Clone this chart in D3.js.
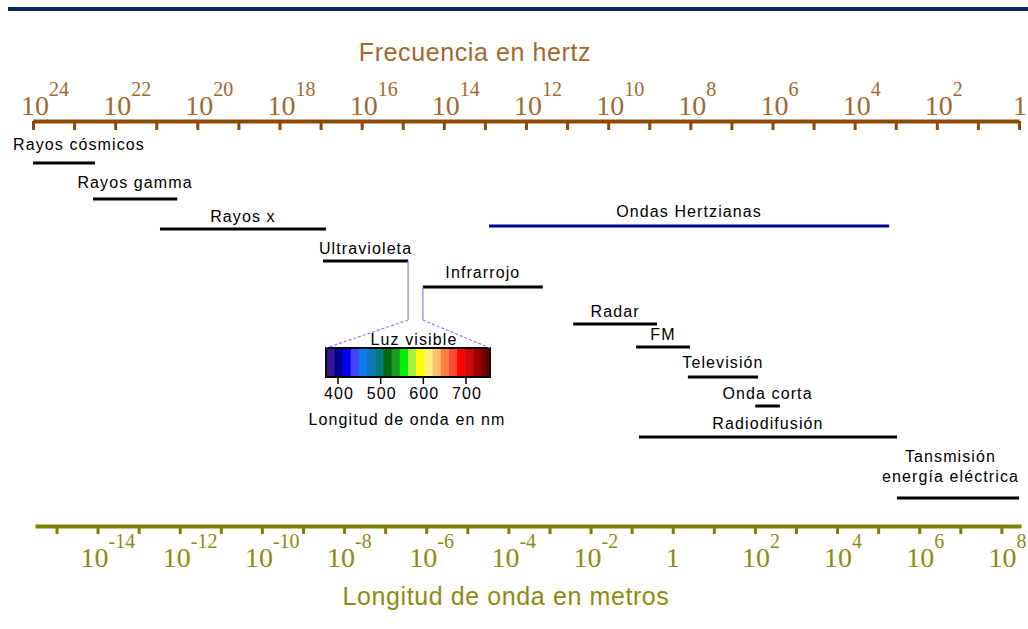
<!DOCTYPE html>
<html>
<head>
<meta charset="utf-8">
<script src="https://cdn.jsdelivr.net/npm/d3@7"></script>
<style>
  html, body { margin: 0; padding: 0; background: #fff; }
  svg { display: block; }
  .lbl { font-family: "Liberation Sans", Arial, sans-serif; font-size: 16px; letter-spacing: 1.1px; fill: #000; }
</style>
</head>
<body>
<svg id="chart" width="1028" height="629"></svg>
<script>
// ---------------- DATA ----------------
const SPEED_OF_LIGHT = 3e8; // m/s
// frequency axis tick exponents (Hz) and labelled ones
const freqTickExponents = d3.range(24, -1, -1);
const freqLabelExponents = [24, 22, 20, 18, 16, 14, 12, 10, 8, 6, 4, 2, 0];
// wavelength axis tick exponents (m) and labelled ones
const waveTickExponents = d3.range(-15, 9, 1);
const waveLabelExponents = [-14, -12, -10, -8, -6, -4, -2, 0, 2, 4, 6, 8];

// bands: names and frequency limits as log10(Hz)
const bandNames = ["Rayos cósmicos", "Rayos gamma", "Rayos x", "Ultravioleta", "Infrarrojo",
  "Ondas Hertzianas", "Radar", "FM", "Televisión", "Onda corta", "Radiodifusión",
  "Tansmisión|energía eléctrica"];
const bandLogFreqHigh = [24.0, 22.54, 20.91, 16.94, 14.51, 12.90, 10.85, 9.32, 8.06, 6.42, 9.25, 2.97];
const bandLogFreqLow  = [22.49, 20.49, 16.87, 14.87, 11.59, 3.16, 8.81, 8.01, 6.35, 5.82, 2.97, 0.0];

// visible light (nm)
const visibleRangeNm = [372, 756];
const visibleTicksNm = [400, 500, 600, 700];
const visibleColors = ["#3c1496", "#000088", "#0000f0", "#4a40f8", "#0a7cf0", "#0a78b8", "#007a7a",
  "#006a10", "#1a9a20", "#00f000", "#a8f048", "#ffff00", "#fff080", "#ffc070", "#ff8040",
  "#ff4a3a", "#ff0000", "#c80a0a", "#a00000", "#700000"];

// ---------------- LAYOUT ----------------
const svg = d3.select("#chart");
const X0 = 33, X1 = 1019;
const freqScale = d3.scaleLog().domain([1e24, 1]).range([X0, X1]);
const waveScale = d3.scaleLog().domain([SPEED_OF_LIGHT / 1e24, SPEED_OF_LIGHT / 1]).range([X0, X1]);

const barY = d3.scaleOrdinal().domain(bandNames)
  .range([163, 199, 229, 261, 287, 226, 324, 347, 377, 406, 437, 498]);
const labelY = d3.scaleOrdinal().domain(bandNames)
  .range([150, 188, 222, 254, 278, 217, 317, 340, 368, 399, 429, 462]);

const topColor = "#8c4a08", topText = "#a2682e";
const botColor = "#808000", botText = "#8c8c10";

// top navy rule
svg.append("rect").attr("x", 8).attr("y", 7).attr("width", 1020).attr("height", 4).attr("fill", "#0b2462");

// ---------------- TOP AXIS (frequency) ----------------
svg.append("text").attr("x", 475).attr("y", 61).attr("text-anchor", "middle")
  .attr("font-family", "Liberation Sans, Arial, sans-serif").attr("font-size", 25)
  .attr("letter-spacing", 0.6).attr("fill", topText).text("Frecuencia en hertz");

const topAxis = d3.axisBottom(freqScale)
  .tickValues(freqTickExponents.map(e => Math.pow(10, e)))
  .tickSize(9).tickSizeOuter(0).tickFormat("");
const gTop = svg.append("g").attr("transform", "translate(0,121)").call(topAxis);
gTop.select(".domain").attr("stroke", topColor).attr("stroke-width", 4);
gTop.selectAll(".tick line").attr("stroke", topColor).attr("stroke-width", 3);

function powerLabel(g, x, y, e, supText) {
  if (e === 0) {
    g.append("text").attr("x", x).attr("y", y).attr("text-anchor", "middle")
      .attr("font-size", 28).text("1");
    return;
  }
  const t = g.append("text").attr("x", x - 13).attr("y", y).attr("font-size", 28);
  t.append("tspan").text("10");
  t.append("tspan").attr("dy", -19).attr("font-size", 20).text(supText);
}

const topLbl = svg.append("g").attr("fill", topText).attr("font-family", "Liberation Serif, Times New Roman, serif");
freqLabelExponents.forEach(e => {
  powerLabel(topLbl, freqScale(Math.pow(10, e)) + 1, 115, e, String(e));
});

// ---------------- BOTTOM AXIS (wavelength) ----------------
const botAxis = d3.axisBottom(waveScale)
  .tickValues(waveTickExponents.map(e => Math.pow(10, e)))
  .tickSize(8).tickSizeOuter(0).tickFormat("");
const gBot = svg.append("g").attr("transform", "translate(2,526)").call(botAxis);
gBot.select(".domain").attr("stroke", botColor).attr("stroke-width", 4);
gBot.selectAll(".tick line").attr("stroke", botColor).attr("stroke-width", 3);

const botLbl = svg.append("g").attr("fill", botText).attr("font-family", "Liberation Serif, Times New Roman, serif");
waveLabelExponents.forEach(e => {
  const x = waveScale(Math.pow(10, e)) + 2 + (e < 0 ? -4 : 0);
  powerLabel(botLbl, x, 567, e, e < 0 ? "-" + (-e) : String(e));
});

svg.append("text").attr("x", 506).attr("y", 605).attr("text-anchor", "middle")
  .attr("font-family", "Liberation Sans, Arial, sans-serif").attr("font-size", 25)
  .attr("letter-spacing", 0.6).attr("fill", botText).text("Longitud de onda en metros");

// ---------------- BANDS ----------------
const bands = bandNames.map((n, i) => ({
  name: n, hi: Math.pow(10, bandLogFreqHigh[i]), lo: Math.pow(10, bandLogFreqLow[i])
}));

const gB = svg.append("g");
bands.forEach(b => {
  const x1 = freqScale(b.hi), x2 = freqScale(b.lo);
  const blue = b.name === "Ondas Hertzianas";
  gB.append("line").attr("x1", x1).attr("x2", x2).attr("y1", barY(b.name)).attr("y2", barY(b.name))
    .attr("stroke", blue ? "#00008c" : "#000").attr("stroke-width", 3);
  const lines = b.name.split("|");
  const t = gB.append("text").attr("class", "lbl").attr("text-anchor", "middle")
    .attr("fill", blue ? "#10109a" : "#000");
  lines.forEach((s, k) => {
    t.append("tspan").attr("x", 0).attr("y", labelY(b.name) + k * 20).text(s);
  });
  // center on the bar, clamp inside the chart
  const w = t.node().getBBox().width;
  let cx = (x1 + x2) / 2;
  cx = Math.max(13 + w / 2, Math.min(1019 - w / 2, cx));
  t.selectAll("tspan").attr("x", cx);
});

// ---------------- VISIBLE LIGHT ----------------
const nm = d3.scaleLinear().domain([400, 700]).range([338, 466]);
const specTop = 348, specH = 29;
const bandW = (visibleRangeNm[1] - visibleRangeNm[0]) / visibleColors.length;
const gS = svg.append("g");
visibleColors.forEach((c, i) => {
  const a = visibleRangeNm[0] + i * bandW, b = a + bandW;
  gS.append("rect").attr("x", nm(a)).attr("y", specTop)
    .attr("width", nm(b) - nm(a) + 0.6).attr("height", specH).attr("fill", c);
});
gS.append("rect").attr("x", nm(visibleRangeNm[0])).attr("y", specTop)
  .attr("width", nm(visibleRangeNm[1]) - nm(visibleRangeNm[0])).attr("height", specH)
  .attr("fill", "none").attr("stroke", "#000").attr("stroke-width", 2);

visibleTicksNm.forEach(v => {
  gS.append("line").attr("x1", nm(v)).attr("x2", nm(v)).attr("y1", specTop + specH).attr("y2", specTop + specH + 7)
    .attr("stroke", "#000").attr("stroke-width", 1.5);
  gS.append("text").attr("class", "lbl").attr("x", nm(v) + 1).attr("y", 399).attr("text-anchor", "middle")
    .attr("letter-spacing", 0.8).text(v);
});
gS.append("text").attr("class", "lbl").attr("x", 414).attr("y", 345).attr("text-anchor", "middle").text("Luz visible");
gS.append("text").attr("class", "lbl").attr("x", 407).attr("y", 425).attr("text-anchor", "middle")
  .attr("letter-spacing", 0.9).text("Longitud de onda en nm");

// connectors from UV / IR to the spectrum
const uv = bands[3], ir = bands[4];
const knee = 320;
const conn = svg.append("g").attr("stroke", "#8080ff").attr("stroke-width", 1.2).attr("fill", "none");
const uvX = freqScale(uv.lo), irX = freqScale(ir.hi);
conn.append("line").attr("x1", uvX).attr("x2", uvX).attr("y1", barY(uv.name)).attr("y2", knee);
conn.append("line").attr("x1", irX).attr("x2", irX).attr("y1", barY(ir.name)).attr("y2", knee);
conn.append("line").attr("x1", uvX).attr("y1", knee).attr("x2", nm(visibleRangeNm[0])).attr("y2", specTop)
  .attr("stroke-dasharray", "3,2");
conn.append("line").attr("x1", irX).attr("y1", knee).attr("x2", nm(visibleRangeNm[1])).attr("y2", specTop)
  .attr("stroke-dasharray", "3,2");
</script>
</body>
</html>
